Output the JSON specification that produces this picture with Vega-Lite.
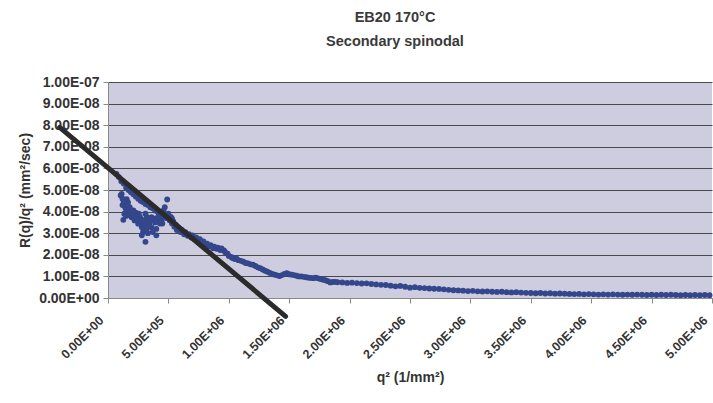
{
  "$schema": "https://vega.github.io/schema/vega-lite/v6.json",
  "width": 604,
  "height": 216,
  "autosize": {"type": "none"},
  "padding": {"left": 108, "top": 82, "right": 1, "bottom": 105},
  "background": "white",
  "config": {
    "font": "Liberation Sans",
    "view": {"fill": "#cdcddf", "stroke": null}
  },
  "title": {
    "text": ["EB20 170°C", "Secondary spinodal"],
    "font": "Liberation Sans",
    "fontSize": 14.5,
    "fontWeight": "bold",
    "color": "#3a3a3a",
    "anchor": "middle",
    "dx": -15,
    "lineHeight": 24,
    "offset": 26
  },
  "data": {
    "values": [
      {"q": 70000, "r": 5.75e-8}, {"q": 90000, "r": 5.6e-8}, {"q": 110000, "r": 5.4e-8}, {"q": 130000, "r": 5.3e-8},
      {"q": 150000, "r": 5.1e-8}, {"q": 170000, "r": 5.0e-8}, {"q": 190000, "r": 4.9e-8}, {"q": 210000, "r": 4.8e-8},
      {"q": 230000, "r": 4.7e-8}, {"q": 250000, "r": 4.6e-8}, {"q": 270000, "r": 4.5e-8}, {"q": 290000, "r": 4.45e-8},
      {"q": 310000, "r": 4.35e-8}, {"q": 330000, "r": 4.3e-8}, {"q": 350000, "r": 4.2e-8}, {"q": 370000, "r": 4.15e-8},
      {"q": 390000, "r": 4.05e-8}, {"q": 410000, "r": 4.0e-8}, {"q": 430000, "r": 3.95e-8}, {"q": 450000, "r": 3.85e-8},
      {"q": 470000, "r": 3.8e-8}, {"q": 490000, "r": 3.75e-8},
      {"q": 113000, "r": 4.82e-8}, {"q": 105000, "r": 4.75e-8}, {"q": 155000, "r": 4.57e-8}, {"q": 166000, "r": 4.42e-8},
      {"q": 140000, "r": 4.36e-8}, {"q": 180000, "r": 4.2e-8}, {"q": 127000, "r": 3.62e-8}, {"q": 155000, "r": 3.97e-8},
      {"q": 210000, "r": 4.05e-8}, {"q": 240000, "r": 3.82e-8}, {"q": 220000, "r": 3.59e-8}, {"q": 250000, "r": 3.44e-8},
      {"q": 280000, "r": 3.28e-8}, {"q": 290000, "r": 3.05e-8}, {"q": 310000, "r": 2.6e-8}, {"q": 320000, "r": 3.2e-8},
      {"q": 330000, "r": 3.59e-8}, {"q": 360000, "r": 3.74e-8}, {"q": 390000, "r": 3.5e-8}, {"q": 400000, "r": 3.2e-8},
      {"q": 400000, "r": 2.9e-8}, {"q": 420000, "r": 3.9e-8}, {"q": 430000, "r": 3.74e-8}, {"q": 460000, "r": 4.05e-8},
      {"q": 490000, "r": 4.56e-8}, {"q": 470000, "r": 4.2e-8}, {"q": 500000, "r": 3.9e-8}, {"q": 530000, "r": 3.67e-8},
      {"q": 195000, "r": 3.74e-8}, {"q": 265000, "r": 3.74e-8}, {"q": 310000, "r": 3.9e-8}, {"q": 280000, "r": 2.9e-8},
      {"q": 360000, "r": 3.28e-8}, {"q": 120000, "r": 4.6e-8}, {"q": 130000, "r": 4.45e-8}, {"q": 145000, "r": 4.15e-8},
      {"q": 160000, "r": 4.0e-8}, {"q": 170000, "r": 3.85e-8}, {"q": 135000, "r": 3.9e-8}, {"q": 150000, "r": 3.8e-8},
      {"q": 185000, "r": 3.95e-8}, {"q": 200000, "r": 3.85e-8}, {"q": 230000, "r": 3.95e-8}, {"q": 260000, "r": 3.6e-8},
      {"q": 270000, "r": 3.45e-8}, {"q": 300000, "r": 3.4e-8}, {"q": 340000, "r": 3.4e-8}, {"q": 350000, "r": 3.55e-8},
      {"q": 380000, "r": 3.65e-8}, {"q": 410000, "r": 3.55e-8}, {"q": 440000, "r": 3.6e-8}, {"q": 450000, "r": 3.45e-8},
      {"q": 370000, "r": 3.05e-8}, {"q": 330000, "r": 3.0e-8}, {"q": 300000, "r": 3.15e-8}, {"q": 480000, "r": 3.7e-8},
      {"q": 120000, "r": 4.3e-8}, {"q": 175000, "r": 4.1e-8}, {"q": 220000, "r": 3.75e-8}, {"q": 255000, "r": 3.9e-8},
      {"q": 290000, "r": 3.6e-8}, {"q": 320000, "r": 3.75e-8}, {"q": 400000, "r": 3.7e-8}, {"q": 430000, "r": 3.45e-8},
      {"q": 510000, "r": 3.6e-8}, {"q": 520000, "r": 3.75e-8}, {"q": 530000, "r": 3.45e-8}, {"q": 540000, "r": 3.55e-8},
      {"q": 550000, "r": 3.3e-8}, {"q": 560000, "r": 3.4e-8}, {"q": 570000, "r": 3.15e-8}, {"q": 580000, "r": 3.25e-8},
      {"q": 600000, "r": 3.05e-8}, {"q": 610000, "r": 3.15e-8}, {"q": 630000, "r": 2.95e-8}, {"q": 640000, "r": 3.05e-8},
      {"q": 660000, "r": 2.88e-8}, {"q": 670000, "r": 2.95e-8}, {"q": 690000, "r": 2.8e-8}, {"q": 700000, "r": 2.9e-8},
      {"q": 720000, "r": 2.72e-8}, {"q": 730000, "r": 2.8e-8}, {"q": 750000, "r": 2.65e-8}, {"q": 760000, "r": 2.72e-8},
      {"q": 780000, "r": 2.55e-8}, {"q": 790000, "r": 2.62e-8}, {"q": 810000, "r": 2.48e-8}, {"q": 820000, "r": 2.52e-8},
      {"q": 840000, "r": 2.4e-8}, {"q": 850000, "r": 2.45e-8}, {"q": 870000, "r": 2.3e-8}, {"q": 880000, "r": 2.38e-8},
      {"q": 900000, "r": 2.28e-8}, {"q": 910000, "r": 2.33e-8}, {"q": 930000, "r": 2.22e-8}, {"q": 940000, "r": 2.3e-8},
      {"q": 960000, "r": 2.2e-8}, {"q": 970000, "r": 2.12e-8}, {"q": 990000, "r": 2.05e-8}, {"q": 1000000, "r": 1.95e-8},
      {"q": 1020000, "r": 1.9e-8}, {"q": 1030000, "r": 1.85e-8}, {"q": 1050000, "r": 1.8e-8}, {"q": 1060000, "r": 1.85e-8},
      {"q": 1080000, "r": 1.75e-8}, {"q": 1100000, "r": 1.72e-8}, {"q": 1120000, "r": 1.68e-8}, {"q": 1140000, "r": 1.62e-8},
      {"q": 1160000, "r": 1.6e-8}, {"q": 1180000, "r": 1.56e-8}, {"q": 1200000, "r": 1.54e-8}, {"q": 1220000, "r": 1.48e-8},
      {"q": 1240000, "r": 1.42e-8}, {"q": 1260000, "r": 1.38e-8}, {"q": 1280000, "r": 1.32e-8}, {"q": 1300000, "r": 1.26e-8},
      {"q": 1320000, "r": 1.22e-8}, {"q": 1340000, "r": 1.16e-8}, {"q": 1360000, "r": 1.12e-8}, {"q": 1380000, "r": 1.08e-8},
      {"q": 1400000, "r": 1.05e-8}, {"q": 1420000, "r": 1.02e-8}, {"q": 1440000, "r": 1.06e-8}, {"q": 1460000, "r": 1.12e-8},
      {"q": 1480000, "r": 1.15e-8}, {"q": 1500000, "r": 1.1e-8}, {"q": 1520000, "r": 1.08e-8}, {"q": 1540000, "r": 1.06e-8},
      {"q": 1560000, "r": 1.03e-8}, {"q": 1580000, "r": 1.0e-8}, {"q": 1600000, "r": 1.0e-8}, {"q": 1620000, "r": 9.8e-9},
      {"q": 1640000, "r": 9.6e-9}, {"q": 1660000, "r": 9.4e-9}, {"q": 1680000, "r": 9.3e-9}, {"q": 1700000, "r": 9.2e-9},
      {"q": 1720000, "r": 9.4e-9}, {"q": 1740000, "r": 9.1e-9}, {"q": 1760000, "r": 8.8e-9}, {"q": 1780000, "r": 8.5e-9},
      {"q": 1800000, "r": 8.2e-9}, {"q": 1820000, "r": 7.8e-9}, {"q": 1840000, "r": 7.2e-9}, {"q": 1860000, "r": 7.4e-9},
      {"q": 1880000, "r": 7.5e-9}, {"q": 1900000, "r": 7.3e-9}, {"q": 1940000, "r": 7.2e-9}, {"q": 1980000, "r": 7.0e-9},
      {"q": 2020000, "r": 7.1e-9}, {"q": 2060000, "r": 6.9e-9}, {"q": 2100000, "r": 6.7e-9}, {"q": 2140000, "r": 6.8e-9},
      {"q": 2180000, "r": 6.5e-9}, {"q": 2220000, "r": 6.3e-9}, {"q": 2260000, "r": 6.1e-9}, {"q": 2300000, "r": 6.0e-9},
      {"q": 2340000, "r": 5.7e-9}, {"q": 2380000, "r": 5.4e-9}, {"q": 2420000, "r": 5.6e-9}, {"q": 2460000, "r": 5.2e-9},
      {"q": 2500000, "r": 4.8e-9}, {"q": 2540000, "r": 5.0e-9}, {"q": 2580000, "r": 4.7e-9}, {"q": 2620000, "r": 4.6e-9},
      {"q": 2660000, "r": 4.4e-9}, {"q": 2700000, "r": 4.3e-9}, {"q": 2740000, "r": 4.2e-9}, {"q": 2780000, "r": 4.0e-9},
      {"q": 2820000, "r": 3.8e-9}, {"q": 2860000, "r": 3.6e-9}, {"q": 2900000, "r": 3.5e-9}, {"q": 2940000, "r": 3.4e-9},
      {"q": 2980000, "r": 3.2e-9}, {"q": 3020000, "r": 3.3e-9}, {"q": 3060000, "r": 3.1e-9}, {"q": 3100000, "r": 3.0e-9},
      {"q": 3140000, "r": 3.1e-9}, {"q": 3180000, "r": 2.9e-9}, {"q": 3220000, "r": 2.8e-9}, {"q": 3260000, "r": 2.9e-9},
      {"q": 3300000, "r": 2.7e-9}, {"q": 3340000, "r": 2.6e-9}, {"q": 3380000, "r": 2.7e-9}, {"q": 3420000, "r": 2.5e-9},
      {"q": 3460000, "r": 2.4e-9}, {"q": 3500000, "r": 2.3e-9}, {"q": 3540000, "r": 2.2e-9}, {"q": 3580000, "r": 2.3e-9},
      {"q": 3620000, "r": 2.1e-9}, {"q": 3660000, "r": 2.2e-9}, {"q": 3700000, "r": 2.0e-9}, {"q": 3740000, "r": 2.1e-9},
      {"q": 3780000, "r": 2.0e-9}, {"q": 3820000, "r": 1.9e-9}, {"q": 3860000, "r": 1.8e-9}, {"q": 3900000, "r": 1.9e-9},
      {"q": 3940000, "r": 1.7e-9}, {"q": 3980000, "r": 1.8e-9}, {"q": 4020000, "r": 1.7e-9}, {"q": 4060000, "r": 1.6e-9},
      {"q": 4100000, "r": 1.7e-9}, {"q": 4140000, "r": 1.6e-9}, {"q": 4180000, "r": 1.7e-9}, {"q": 4220000, "r": 1.6e-9},
      {"q": 4260000, "r": 1.5e-9}, {"q": 4300000, "r": 1.6e-9}, {"q": 4340000, "r": 1.5e-9}, {"q": 4380000, "r": 1.6e-9},
      {"q": 4420000, "r": 1.5e-9}, {"q": 4460000, "r": 1.4e-9}, {"q": 4500000, "r": 1.5e-9}, {"q": 4540000, "r": 1.4e-9},
      {"q": 4580000, "r": 1.5e-9}, {"q": 4620000, "r": 1.4e-9}, {"q": 4660000, "r": 1.5e-9}, {"q": 4700000, "r": 1.4e-9},
      {"q": 4740000, "r": 1.3e-9}, {"q": 4780000, "r": 1.4e-9}, {"q": 4820000, "r": 1.3e-9}, {"q": 4860000, "r": 1.4e-9},
      {"q": 4900000, "r": 1.3e-9}, {"q": 4940000, "r": 1.4e-9}, {"q": 4980000, "r": 1.3e-9}
    ]
  },
  "encoding": {
    "x": {
      "field": "q",
      "type": "quantitative",
      "scale": {"domain": [0, 5000000], "nice": false, "zero": false},
      "axis": {
        "title": "q² (1/mm²)",
        "values": [0, 500000, 1000000, 1500000, 2000000, 2500000, 3000000, 3500000, 4000000, 4500000, 5000000],
        "labelExpr": "replace(replace(format(datum.value, '.2e'), 'e-', 'E-0'), 'e+', 'E+0')",
        "labelAngle": -45,
        "labelAlign": "right",
        "labelBaseline": "middle",
        "labelFontSize": 12.5,
        "labelFontWeight": "bold",
        "labelColor": "#333333",
        "labelFlush": false,
        "labelOverlap": false,
        "labelPadding": 15,
        "labelOffset": -7,
        "grid": false,
        "domainColor": "#8a8a8a",
        "tickColor": "#8a8a8a",
        "tickSize": 5,
        "titleFontSize": 14,
        "titleFontWeight": "bold",
        "titleColor": "#333333",
        "titlePadding": 10
      }
    },
    "y": {
      "field": "r",
      "type": "quantitative",
      "scale": {"domain": [0, 1e-7], "nice": false, "zero": false},
      "axis": {
        "title": "R(q)/q² (mm²/sec)",
        "values": [0, 1e-8, 2e-8, 3e-8, 4e-8, 5e-8, 6e-8, 7e-8, 8e-8, 9e-8, 1e-7],
        "labelExpr": "replace(replace(format(datum.value, '.2e'), 'e-', 'E-0'), 'e+', 'E+0')",
        "labelFontSize": 14,
        "labelFontWeight": "bold",
        "labelColor": "#333333",
        "labelFlush": false,
        "labelOverlap": false,
        "labelPadding": 4,
        "grid": true,
        "gridColor": "#4a4a4a",
        "gridWidth": 1,
        "domainColor": "#8a8a8a",
        "tickColor": "#8a8a8a",
        "tickSize": 5,
        "titleFontSize": 14,
        "titleFontWeight": "bold",
        "titleColor": "#333333",
        "titlePadding": 6
      }
    }
  },
  "layer": [
    {
      "mark": {"type": "circle", "size": 34, "color": "#34468c", "opacity": 1}
    },
    {
      "data": {"values": [{"q": -400000, "r": 7.9e-8}, {"q": 1470000, "r": -8.5e-9}]},
      "mark": {"type": "line", "color": "#2b2b2b", "strokeWidth": 5, "strokeCap": "round"}
    }
  ]
}
